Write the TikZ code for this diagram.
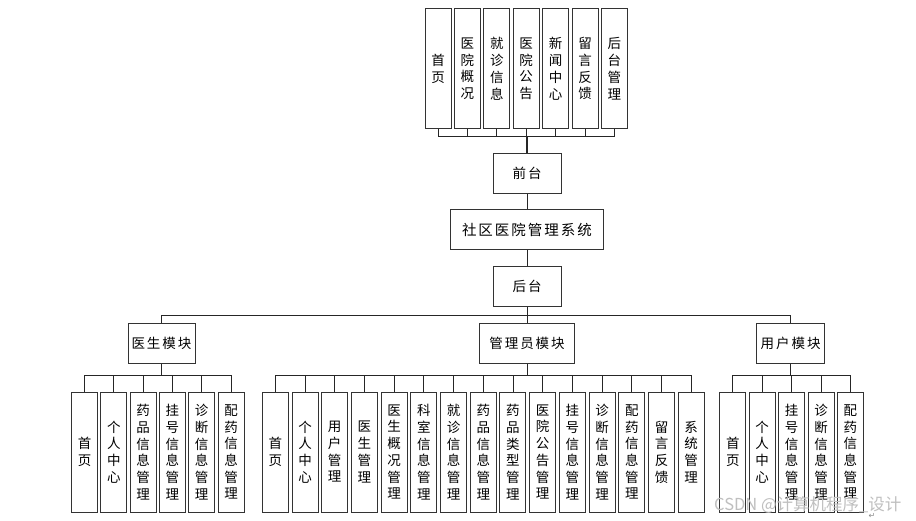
\documentclass[tikz,border=0pt]{standalone}
\usepackage{fontspec}
\newfontfamily\cjk{Noto Sans CJK SC}
\newfontfamily\symf{DejaVu Sans}
\newcommand{\kj}{\hspace{2pt}}
\tikzset{
  box/.style={draw=black!80, line width=1pt, fill=white, inner sep=0pt, align=center,
              font=\cjk\fontsize{13.5}{16.7}\selectfont},
  leaf/.style={box, minimum width=26pt, minimum height=120pt},
  hub/.style={box, minimum height=40pt},
  conn/.style={draw=black!85, line width=0.9pt},
}
\begin{document}
\begin{tikzpicture}[x=1pt,y=-1pt]
\useasboundingbox[fill=white] (0,0) rectangle (916,521);

% top row
\foreach \t [count=\i from 0] in {首\\页, 医\\院\\概\\况, 就\\诊\\信\\息, 医\\院\\公\\告, 新\\闻\\中\\心, 留\\言\\反\\馈, 后\\台\\管\\理}
  \node[leaf] (t\i) at (438+29.4*\i, 68.7) {\t};

\node[hub, minimum width=68pt] (qt) at (527,173.3) {前\kj 台};
\node[hub, minimum width=152.6pt, font=\cjk\fontsize{14.5}{17}\selectfont] (sys) at (527,230) {社\kj 区\kj 医\kj 院\kj 管\kj 理\kj 系\kj 统};
\node[hub, minimum width=68pt] (ht) at (527,286.7) {后\kj 台};

\node[hub, minimum width=67pt] (doc) at (161.5,343.3) {医\kj 生\kj 模\kj 块};
\node[hub, minimum width=95pt] (adm) at (527,343.3) {管\kj 理\kj 员\kj 模\kj 块};
\node[hub, minimum width=67.6pt] (usr) at (790.5,343.3) {用\kj 户\kj 模\kj 块};

% leaves
\foreach \t [count=\i from 0] in {首\\页, 个\\人\\中\\心, 药\\品\\信\\息\\管\\理, 挂\\号\\信\\息\\管\\理, 诊\\断\\信\\息\\管\\理, 配\\药\\信\\息\\管\\理}
  \node[leaf] (d\i) at (84.5+29.3*\i, 452) {\t};

\foreach \t [count=\i from 0] in {首\\页, 个\\人\\中\\心, 用\\户\\管\\理, 医\\生\\管\\理, 医\\生\\概\\况\\管\\理, 科\\室\\信\\息\\管\\理, 就\\诊\\信\\息\\管\\理, 药\\品\\信\\息\\管\\理, 药\\品\\类\\型\\管\\理, 医\\院\\公\\告\\管\\理, 挂\\号\\信\\息\\管\\理, 诊\\断\\信\\息\\管\\理, 配\\药\\信\\息\\管\\理, 留\\言\\反\\馈, 系\\统\\管\\理}
  \node[leaf] (a\i) at (275.3+29.71*\i, 452) {\t};

\foreach \t [count=\i from 0] in {首\\页, 个\\人\\中\\心, 挂\\号\\信\\息\\管\\理, 诊\\断\\信\\息\\管\\理, 配\\药\\信\\息\\管\\理}
  \node[leaf] (u\i) at (732.8+29.4*\i, 452) {\t};

% connectors
\coordinate (tb) at (527,136);
\foreach \i in {0,...,6} \draw[conn] (t\i.south) |- (tb);
\draw[conn, line width=1.3pt] (tb) -- (qt.north);
\draw[conn] (qt.south) -- (sys.north);
\draw[conn] (sys.south) -- (ht.north);
\coordinate (hb) at (527,315.7);
\draw[conn] (ht.south) -- (adm.north);
\draw[conn] (doc.north) |- (hb);
\draw[conn] (usr.north) |- (hb);

\coordinate (db) at (161.5,375.7);
\draw[conn] (doc.south) -- (db);
\foreach \i in {0,...,5} \draw[conn] (d\i.north) |- (db);
\coordinate (ab) at (527,375.7);
\draw[conn] (adm.south) -- (ab);
\foreach \i in {0,...,14} \draw[conn] (a\i.north) |- (ab);
\coordinate (ub) at (790.5,375.7);
\draw[conn] (usr.south) -- (ub);
\foreach \i in {0,...,4} \draw[conn] (u\i.north) |- (ub);

% watermark
\node[anchor=west, text=black!25, font=\cjk\fontsize{16.5}{18}\selectfont, inner sep=0pt] (wm) at (714,505) {CSDN @计算机程序\_设计};
\node[text=black!45, font=\symf\fontsize{8}{9}\selectfont, inner sep=0pt] (pm) at (872,516) {↵};
\end{tikzpicture}
\end{document}
